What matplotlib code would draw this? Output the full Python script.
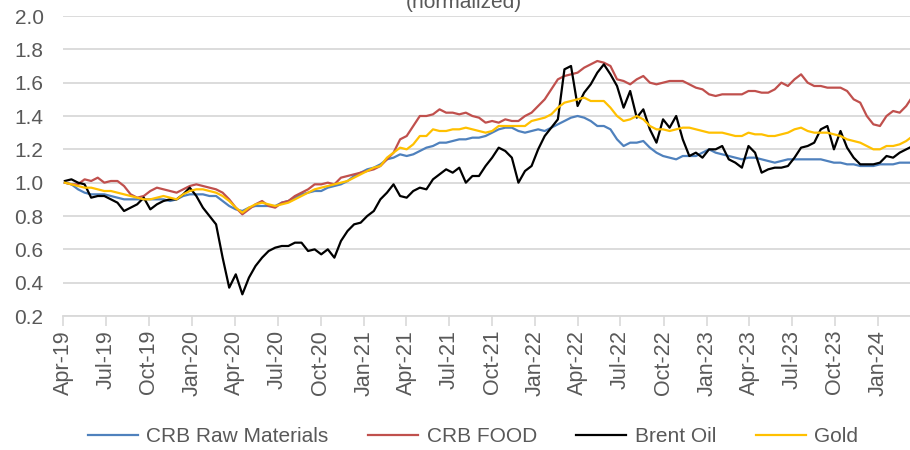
import matplotlib
matplotlib.use('Agg')
import matplotlib.pyplot as plt
import matplotlib.dates as mdates
import pandas as pd

# biweekly observations, normalized to first value
dates = pd.date_range('2019-04-05', periods=130, freq='14D')

crb_raw = [1.00, 0.99, 0.96, 0.94, 0.93, 0.93, 0.93, 0.92, 0.91, 0.90,
           0.90, 0.90, 0.90, 0.90, 0.90, 0.90, 0.89, 0.90, 0.92, 0.93,
           0.93, 0.93, 0.92, 0.92, 0.89, 0.86, 0.84, 0.83, 0.85, 0.86,
           0.86, 0.86, 0.86, 0.88, 0.89, 0.91, 0.93, 0.94, 0.95, 0.95,
           0.97, 0.98, 0.99, 1.01, 1.04, 1.06, 1.08, 1.09, 1.11, 1.14,
           1.15, 1.17, 1.16, 1.17, 1.19, 1.21, 1.22, 1.24, 1.24, 1.25,
           1.26, 1.26, 1.27, 1.27, 1.28, 1.30, 1.32, 1.33, 1.33, 1.31,
           1.30, 1.31, 1.32, 1.31, 1.33, 1.35, 1.37, 1.39, 1.40, 1.39,
           1.37, 1.34, 1.34, 1.32, 1.26, 1.22, 1.24, 1.24, 1.25, 1.21,
           1.18, 1.16, 1.15, 1.14, 1.16, 1.16, 1.16, 1.18, 1.20, 1.18,
           1.17, 1.16, 1.15, 1.14, 1.15, 1.15, 1.14, 1.13, 1.12, 1.13,
           1.14, 1.14, 1.14, 1.14, 1.14, 1.14, 1.13, 1.12, 1.12, 1.11,
           1.11, 1.10, 1.10, 1.10, 1.11, 1.11, 1.11, 1.12, 1.12, 1.12]

crb_food = [1.00, 0.99, 0.99, 1.02, 1.01, 1.03, 1.00, 1.01, 1.01, 0.98,
            0.93, 0.91, 0.92, 0.95, 0.97, 0.96, 0.95, 0.94, 0.96, 0.98,
            0.99, 0.98, 0.97, 0.96, 0.94, 0.90, 0.85, 0.81, 0.84, 0.87,
            0.89, 0.86, 0.85, 0.88, 0.89, 0.92, 0.94, 0.96, 0.99, 0.99,
            1.00, 0.99, 1.03, 1.04, 1.05, 1.06, 1.07, 1.08, 1.10, 1.14,
            1.18, 1.26, 1.28, 1.34, 1.40, 1.40, 1.41, 1.44, 1.42, 1.42,
            1.41, 1.42, 1.40, 1.39, 1.36, 1.37, 1.36, 1.38, 1.37, 1.37,
            1.40, 1.42, 1.46, 1.50, 1.56, 1.62, 1.64, 1.65, 1.66, 1.69,
            1.71, 1.73, 1.72, 1.70, 1.62, 1.61, 1.59, 1.62, 1.64, 1.60,
            1.59, 1.60, 1.61, 1.61, 1.61, 1.59, 1.57, 1.56, 1.53, 1.52,
            1.53, 1.53, 1.53, 1.53, 1.55, 1.55, 1.54, 1.54, 1.56, 1.60,
            1.58, 1.62, 1.65, 1.60, 1.58, 1.58, 1.57, 1.57, 1.57, 1.55,
            1.50, 1.48, 1.40, 1.35, 1.34, 1.40, 1.43, 1.42, 1.46, 1.52]

brent = [1.01, 1.02, 1.00, 0.99, 0.91, 0.92, 0.92, 0.90, 0.88, 0.83,
         0.85, 0.87, 0.91, 0.84, 0.87, 0.89, 0.90, 0.90, 0.93, 0.97,
         0.92, 0.85, 0.80, 0.75, 0.55, 0.37, 0.45, 0.33, 0.43, 0.50,
         0.55, 0.59, 0.61, 0.62, 0.62, 0.64, 0.64, 0.59, 0.60, 0.57,
         0.60, 0.55, 0.65, 0.71, 0.75, 0.76, 0.80, 0.83, 0.90, 0.94,
         0.99, 0.92, 0.91, 0.95, 0.97, 0.96, 1.02, 1.05, 1.08, 1.06,
         1.09, 1.00, 1.04, 1.04, 1.10, 1.15, 1.21, 1.19, 1.15, 1.00,
         1.07, 1.10, 1.20, 1.28, 1.33, 1.38, 1.68, 1.70, 1.46, 1.54,
         1.59, 1.66, 1.71, 1.65, 1.58, 1.45, 1.55, 1.39, 1.44, 1.32,
         1.24, 1.38, 1.33, 1.40, 1.26, 1.16, 1.18, 1.15, 1.20, 1.20,
         1.22, 1.14, 1.12, 1.09, 1.22, 1.18, 1.06, 1.08, 1.09, 1.09,
         1.10, 1.15, 1.21, 1.22, 1.24, 1.32, 1.34, 1.20, 1.31, 1.21,
         1.15, 1.11, 1.11, 1.11, 1.12, 1.16, 1.15, 1.18, 1.20, 1.22]

gold = [1.00, 0.99, 0.98, 0.97, 0.97, 0.96, 0.95, 0.95, 0.94, 0.93,
        0.92, 0.91, 0.90, 0.90, 0.91, 0.92, 0.91, 0.90, 0.93, 0.95,
        0.96, 0.96, 0.95, 0.94, 0.92, 0.89, 0.85, 0.82, 0.85, 0.87,
        0.88, 0.87, 0.86, 0.87, 0.88, 0.90, 0.92, 0.94, 0.96, 0.97,
        0.98, 0.99, 1.00, 1.01, 1.03, 1.05, 1.07, 1.09, 1.10, 1.15,
        1.18, 1.21, 1.20, 1.23, 1.28, 1.28, 1.32, 1.31, 1.31, 1.32,
        1.32, 1.33, 1.32, 1.31, 1.30, 1.31, 1.34, 1.34, 1.34, 1.34,
        1.34, 1.37, 1.38, 1.39, 1.41, 1.45, 1.48, 1.49, 1.50, 1.51,
        1.49, 1.49, 1.49, 1.45, 1.40, 1.37, 1.38, 1.40, 1.38, 1.34,
        1.32, 1.32, 1.31, 1.32, 1.33, 1.33, 1.32, 1.31, 1.30, 1.30,
        1.30, 1.29, 1.28, 1.28, 1.30, 1.29, 1.29, 1.28, 1.28, 1.29,
        1.30, 1.32, 1.33, 1.31, 1.30, 1.30, 1.30, 1.29, 1.28, 1.26,
        1.25, 1.24, 1.22, 1.20, 1.20, 1.22, 1.22, 1.23, 1.25, 1.28]

series = [
    ('CRB Raw Materials', crb_raw, '#4F81BD'),
    ('CRB FOOD', crb_food, '#C0504D'),
    ('Brent Oil', brent, '#000000'),
    ('Gold', gold, '#FFC000'),
]

plt.rcParams['font.family'] = ['Liberation Sans', 'DejaVu Sans']
txt_color = '#595959'

fig = plt.figure(figsize=(9.1, 4.5), dpi=100)
ax = fig.add_axes([63 / 910, 1 - 316 / 450, 1 - 63 / 910, 300 / 450])

for _name, _vals, _color in series:
    ax.plot(dates, _vals, color=_color, lw=1.6, label=_name)

ax.set_ylim(0.2, 2.0)
ax.set_yticks([0.2 + 0.2 * k for k in range(10)])
ax.yaxis.set_major_formatter(plt.FormatStrFormatter('%.1f'))
ax.set_xlim(pd.Timestamp('2019-04-01'), pd.Timestamp('2024-03-09'))
ax.xaxis.set_major_locator(mdates.MonthLocator(bymonth=[1, 4, 7, 10]))
ax.xaxis.set_major_formatter(mdates.DateFormatter('%b-%y'))

ax.grid(axis='y', color='#D9D9D9', lw=1.3)
ax.set_axisbelow(True)
for s in ['top', 'right', 'left']:
    ax.spines[s].set_visible(False)
ax.spines['bottom'].set_color('#D9D9D9')
ax.spines['bottom'].set_linewidth(1.3)
ax.tick_params(axis='y', length=0, labelsize=15, colors=txt_color, pad=14)
ax.tick_params(axis='x', length=7, width=1.2, color='#D9D9D9', labelsize=15.5,
               labelcolor=txt_color, rotation=90, pad=3)

fig.text(0.51, 1 - 8 / 450, '(normalized)', ha='center', va='baseline',
         fontsize=15, color=txt_color)

fig.legend(loc='center', bbox_to_anchor=(473 / 910, 1 - 437 / 450), ncol=4,
           frameon=False, fontsize=15, handlelength=2.4, columnspacing=1.9,
           labelcolor=txt_color, handletextpad=0.4)

fig.savefig('out.png', dpi=100)
